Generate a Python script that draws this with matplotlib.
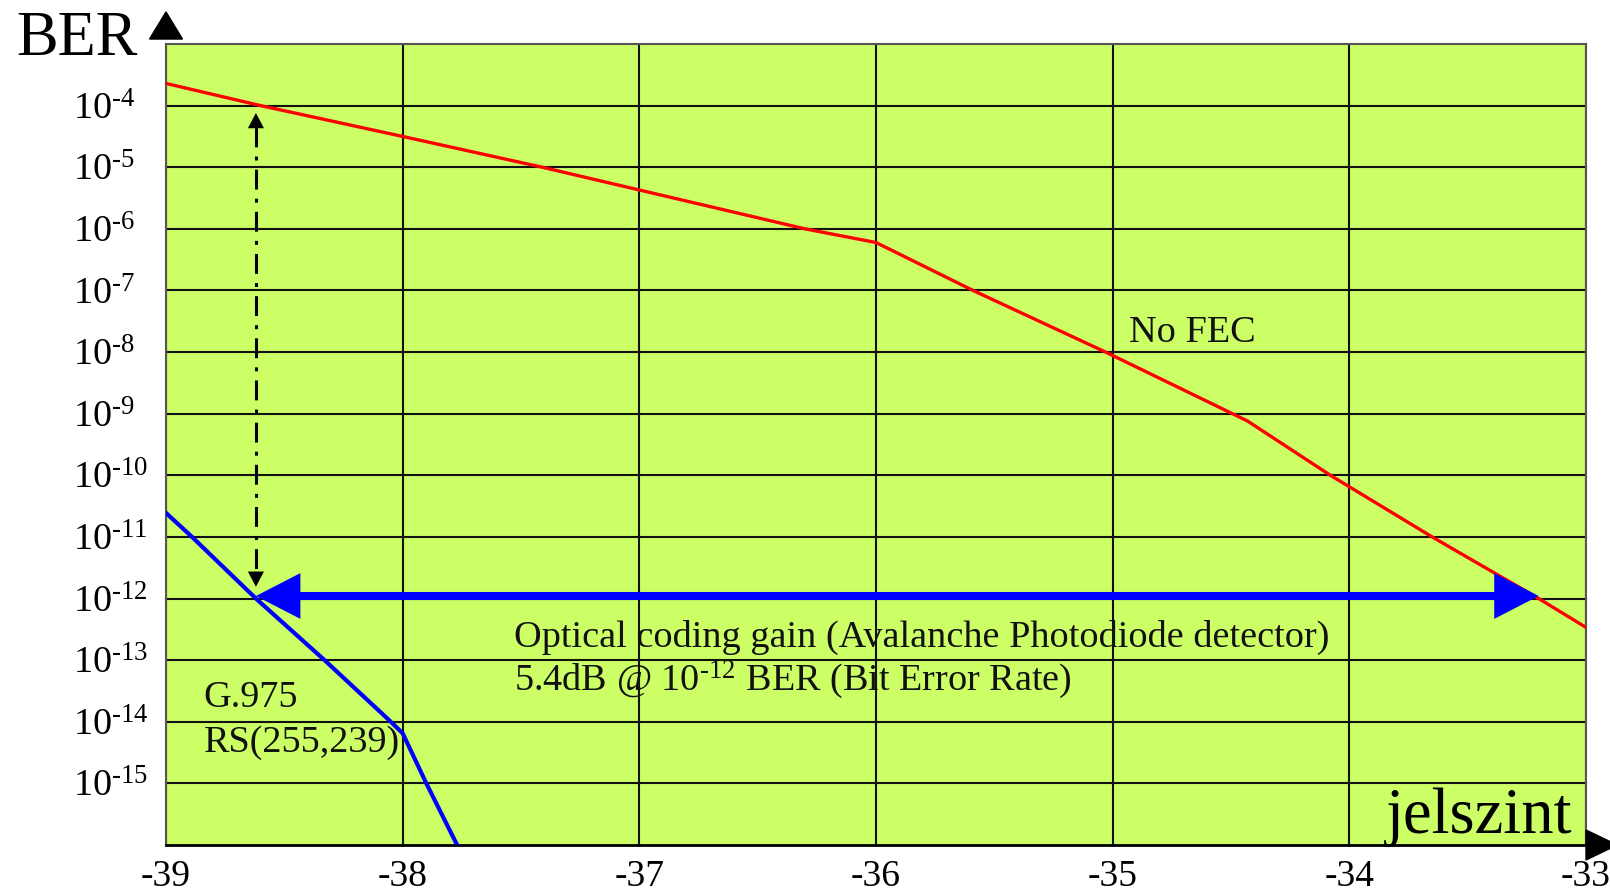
import matplotlib
matplotlib.use("Agg")
import matplotlib.pyplot as plt
from matplotlib.patches import Polygon
from matplotlib.ticker import NullLocator

plt.rcParams['font.family'] = ['Liberation Serif', 'DejaVu Serif']
plt.rcParams['mathtext.fontset'] = 'custom'
plt.rcParams['mathtext.rm'] = 'Liberation Serif'
plt.rcParams['mathtext.it'] = 'Liberation Serif:italic'

# ---- data ----
power_nofec = [-39.0, -38.6, -38.0, -37.41, -37.0, -36.3, -36.0, -35.59, -35.03,
               -34.43, -34.08, -33.65, -33.2, -33.0]
ber_nofec = [2.29e-4, 1e-4, 3.16e-5, 1e-5, 4.27e-6, 1e-6, 6.0e-7, 1e-7, 1e-8,
             7.6e-10, 1e-10, 1e-11, 1e-12, 3.4e-13]

power_rs = [-39.0, -38.89, -38.62, -38.33, -38.05, -38.0, -37.9, -37.77]
ber_rs = [2.45e-11, 1e-11, 1e-12, 1e-13, 1e-14, 6.5e-15, 1e-15, 1e-16]

gain_from, gain_to, gain_ber = -38.62, -33.2, 1.1e-12
ref_x, ref_top, ref_bottom = -38.62, 7.6e-5, 1.55e-12

xticks = [-39, -38, -37, -36, -35, -34, -33]
xlabels = ['-39', '-38', '-37', '-36', '-35', '-34', '-33']
yexps = list(range(-4, -16, -1))
yticks = [10.0 ** e for e in yexps]
ylabels = [r'$\mathregular{10^{\text{-}%d}}$' % (-e) for e in yexps]

# ---- figure ----
W, H = 1610, 894
fig = plt.figure(figsize=(W / 100, H / 100), dpi=100)
ax = fig.add_axes([166 / W, 1 - 845 / H, 1420 / W, 801 / H])
ax.set_facecolor('#CCFF66')
ax.set_yscale('log')
ax.set_xlim(-39, -33)
ax.set_ylim(1e-16, 1e-3)
ax.set_xticks(xticks)
ax.set_xticklabels(xlabels)
ax.set_yticks(yticks)
ax.set_yticklabels(ylabels, ha='left')
ax.yaxis.set_minor_locator(NullLocator())
ax.tick_params(axis='y', length=0, pad=67, labelsize=27.5)
ax.tick_params(axis='x', length=0, pad=10.5, labelsize=27)
ax.grid(True, which='major', color='#111111', lw=1.5)
for side in ['left', 'top', 'right']:
    ax.spines[side].set_color('#555555')
    ax.spines[side].set_linewidth(1.5)
ax.spines['bottom'].set_color('black')
ax.spines['bottom'].set_linewidth(2)

ax.plot(power_nofec, ber_nofec, color='#FF0000', lw=2.4, zorder=3)
ax.plot(power_rs, ber_rs, color='#0000FF', lw=3.0, zorder=3)

# dash-dot reference arrow
ax.plot([ref_x, ref_x], [ref_top * 0.6, ref_bottom * 1.6], color='black', lw=2.2,
        linestyle=(0, (6.5, 3.0, 1.3, 3.0)), zorder=4)
for tip, tail in [(ref_top, ref_top * 0.5), (ref_bottom, ref_bottom * 2.0)]:
    ax.annotate('', xy=(ref_x, tip), xytext=(ref_x, tail),
                arrowprops=dict(arrowstyle='-|>,head_length=11,head_width=5.8',
                                mutation_scale=1, lw=0, color='black',
                                shrinkA=0, shrinkB=0), zorder=4)

# blue gain arrow
ax.plot([gain_from + 0.1, gain_to - 0.1], [gain_ber, gain_ber], color='#0000FF',
        lw=5.8, solid_capstyle='butt', zorder=4)
for tip, tail in [(gain_from, gain_from + 0.3), (gain_to, gain_to - 0.3)]:
    ax.annotate('', xy=(tip, gain_ber), xytext=(tail, gain_ber),
                arrowprops=dict(arrowstyle='-|>,head_length=32,head_width=16.5',
                                mutation_scale=1, lw=0, color='#0000FF',
                                shrinkA=0, shrinkB=0), zorder=5)

# texts
txt = dict(fontsize=27.5, color='#111111', va='baseline', ha='left', zorder=6)
ax.text(-34.93, 1.45e-8, 'No FEC', **txt)
ax.text(-37.53, 1.62e-13, 'Optical coding gain (Avalanche Photodiode detector)', **txt)
ax.text(-37.53, 3.2e-14, r'5.4dB @ 10$^{\mathregular{\text{-}12}}$ BER (Bit Error Rate)', **txt)
ax.text(-38.84, 1.74e-14, 'G.975', **txt)
ax.text(-38.84, 3.2e-15, 'RS(255,239)', **txt)

fig.text(16 / W, 1 - 55 / H, 'BER', fontsize=45, va='baseline', ha='left')
fig.text(1386 / W, 1 - 833 / H, 'jelszint', fontsize=46.5, va='baseline', ha='left')

# axis arrowheads
ax.add_patch(Polygon([(-0.0116, 1.0062), (0.0116, 1.0062), (0.0, 1.040)],
                     closed=True, transform=ax.transAxes, clip_on=False,
                     color='black', zorder=6))
ax.add_patch(Polygon([(1.0, -0.0187), (1.0, 0.0187), (1.022, 0.0)],
                     closed=True, transform=ax.transAxes, clip_on=False,
                     color='black', zorder=6))

fig.savefig('out.png', dpi=100)
